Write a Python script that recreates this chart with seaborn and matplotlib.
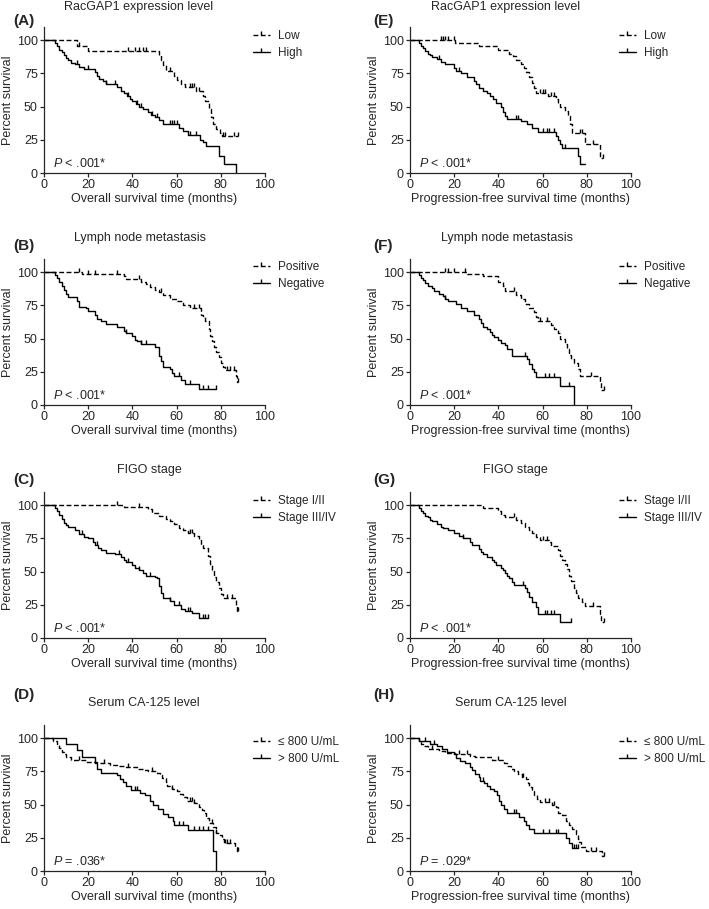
import numpy as np
import matplotlib
matplotlib.use("Agg")
import matplotlib.pyplot as plt
from matplotlib.path import Path
from matplotlib.lines import Line2D
import seaborn as sns

# ---- data (time in months, % survival after each drop) ----
# (A) OS, RacGAP1
a_low_t = [15, 20, 52, 53, 54, 55, 59, 60, 62, 64, 69, 72, 73, 74.5, 75.5, 76.5, 78, 79.5, 80.5]
a_low_s = [96, 92, 89, 85, 81, 77, 73, 70, 67, 65, 62, 58, 54, 48, 42, 37, 33, 30, 28]
a_low_end = 88
a_low_cens = [16, 38, 41, 43, 45, 46, 57, 66, 67, 68, 70, 81, 82, 86, 88]
a_high_t = [5, 6, 7, 8, 9, 10, 11, 12, 14, 16, 18, 23, 24, 25, 26.5, 28, 33, 35, 36, 37.5, 39, 40,
            41.5, 43, 45, 47, 48.5, 50, 52, 54, 61, 63, 65, 70.5, 72, 73.5, 79, 81.5, 87]
a_high_s = [98, 96, 93, 91, 89, 87, 85, 83, 82, 80, 78, 76, 73, 71, 69, 67, 65, 62, 60, 58, 56, 54,
            52, 50, 48, 46, 44, 42, 40, 37, 34, 32, 29, 25, 23, 20, 13, 7, 0]
a_high_end = 87
a_high_cens = [15, 20, 28, 32, 38, 42, 44, 49, 51, 57, 58, 59, 60, 66, 69]

# (E) PFS, RacGAP1
e_low_t = [20.5, 31, 40, 45, 46.5, 48, 50, 51.5, 52.5, 54, 55, 56, 57, 62.5, 66, 67, 68, 70, 71.5,
           72.5, 73.5, 79, 86]
e_low_s = [98, 95.5, 93, 90, 88, 85, 82, 79, 76, 72, 68, 64, 60, 58, 56, 53, 50, 47, 43, 37, 30, 22, 11]
e_low_end = 87.5
e_low_cens = [14, 15, 16, 17, 20, 59, 60, 61, 64, 65, 77, 78, 83, 87.5]
e_high_t = [4, 5, 6, 7, 8, 9, 10, 12, 14, 16, 20, 21, 23, 26, 29, 30, 31, 33, 35, 36, 37.5, 39, 41,
            42, 43, 44, 50, 53, 55, 58, 66, 67, 68, 69, 76, 77]
e_high_s = [98, 96, 94, 92, 90, 89, 87.5, 86, 84, 82, 79, 77, 75, 72, 69, 67, 64, 62, 60, 58, 56, 53,
            50, 46, 43, 41, 39, 37, 34, 31, 28, 25, 22, 19, 13, 6.5]
e_high_end = 79
e_high_cens = [13, 22, 48, 49, 60, 62, 63, 65, 70]

# (B) OS, lymph node metastasis
b_pos_t = [17, 36, 37, 44, 46, 48, 50, 52, 54, 57, 60, 63, 66, 71, 72, 73, 74.5, 75, 76, 77, 78, 79,
           80, 81, 82, 87, 87.5]
b_pos_s = [98.5, 97, 95, 93, 91, 89, 87, 85, 83, 80, 78, 75, 73, 68, 66, 63, 57, 52, 48, 44, 40, 36,
           32, 29, 26, 22, 17]
b_pos_end = 88
b_pos_cens = [16, 20, 23, 33, 43, 53, 68, 70, 83, 84, 86, 88]
b_neg_t = [5, 6, 7, 8, 9, 10, 11, 15, 16, 19, 20, 23, 24, 26, 28, 33, 36, 37, 40, 41, 42, 44, 50, 52,
           53, 54, 57, 58, 59, 62, 64, 70]
b_neg_s = [98, 96, 93, 90, 87, 84, 81, 78, 74, 73, 71, 68, 65, 63, 61, 59, 56, 54, 52, 49, 48, 46, 44,
           37, 33, 29, 27, 24, 22, 19, 16, 12]
b_neg_end = 78
b_neg_cens = [37, 44, 46, 61, 66, 72, 74, 78]

# (F) PFS, lymph node metastasis
f_pos_t = [26, 33, 40, 42, 43, 48, 50, 52, 54, 56, 57, 58, 64, 65, 67, 68, 70, 71, 72, 73, 74, 76, 77,
           86, 86.5]
f_pos_s = [98.5, 97, 93, 90, 86, 83, 80, 76, 73, 70, 66, 63, 60, 57, 54, 50, 46, 42, 38, 35, 32, 27,
           22, 17, 11]
f_pos_end = 88
f_pos_cens = [16, 17, 20, 25, 47, 59, 62, 82, 88]
f_neg_t = [4, 5, 6, 7, 8, 10, 11, 13, 15, 16, 17, 21, 23, 26, 29, 31, 32, 33, 35, 36, 37, 38, 40, 41,
           43, 44, 46, 53, 54, 55, 56, 57, 68, 74]
f_neg_s = [98, 96, 94, 92, 90, 88, 86, 84, 82, 80, 78, 76, 73, 71, 68, 65, 62, 59, 57, 55, 53, 51, 49,
           47, 45, 42, 37, 35, 31, 27, 25, 21, 14, 0]
f_neg_end = 74
f_neg_cens = [16, 52, 61, 63, 65, 72]

# (C) OS, FIGO stage
c_early_t = [36, 47, 49, 52, 55, 57, 59, 61, 63, 65, 68, 70, 71, 72, 74, 75, 76, 77, 78, 79, 80, 81,
             87, 87.5]
c_early_s = [98.5, 97, 94, 92, 90, 88, 86, 83, 81, 79, 77, 74, 71, 68, 62, 56, 51, 46, 42, 38, 33, 30,
             25, 20]
c_early_end = 88
c_early_cens = [33, 43, 66, 67, 83, 85, 88]
c_late_t = [5, 6, 7, 8, 9, 10, 11, 14, 16, 18, 20, 22, 23, 24.5, 26, 28, 32, 35, 36, 37, 40, 41, 43,
            45, 46, 50, 51, 52, 53, 54, 57, 59, 62, 64, 67, 70]
c_late_s = [98, 96, 93, 90, 87, 85, 84, 81, 78, 76, 75, 72, 70, 68, 66, 64, 63, 61, 59, 57, 55, 53, 51,
            49, 47, 46, 45, 39, 34, 30, 28, 25, 22, 20, 19, 15]
c_late_end = 74
c_late_cens = [17, 24, 34, 38, 43, 48, 57, 61, 65, 66, 72, 73, 74]

# (G) PFS, FIGO stage
g_early_t = [33, 40, 41, 43, 48, 50, 52, 54, 55, 57, 59, 63, 64, 67, 68, 69, 70, 71, 72, 73, 74, 75,
             76, 78, 79, 86, 86.5]
g_early_s = [98, 96, 93, 91, 89, 87, 84, 81, 79, 76, 74, 72, 69, 66, 62, 59, 56, 52, 47, 43, 38, 34,
             30, 27, 24, 18, 12]
g_early_end = 88
g_early_cens = [47, 60, 62, 83, 88]
g_late_t = [4, 5, 6, 7, 8, 9, 10, 12, 14, 15, 17, 20, 22, 24, 27, 28, 31, 32, 33, 35, 37, 38, 39, 41,
            42, 43, 44, 45, 46, 47, 52, 53, 54, 55, 57, 58, 68]
g_late_s = [98, 96, 94, 92, 91, 89, 88, 86, 84, 83, 81, 79, 77, 75, 72, 70, 67, 65, 63, 61, 59, 57, 55,
            53, 51, 49, 47, 45, 42, 40, 38, 35, 31, 27, 23, 18, 12]
g_late_end = 73
g_late_cens = [24, 51, 61, 62, 64, 65, 73]

# (D) OS, serum CA-125
d_lo_t = [4, 6, 7, 8, 9, 10, 12, 19, 24, 30, 33, 36, 42, 45, 47, 51, 52.5, 53.5, 55, 55.5, 57.7, 60,
          61.5, 62.7, 64.5, 68, 70, 71.3, 72.4, 73.5, 74.6, 76.6, 78, 79, 80.4, 81.4, 86.4, 87.2]
d_lo_s = [98, 96, 93, 90, 88, 86, 84, 82, 81, 80, 79, 78, 77, 76, 75, 74, 72, 70, 67, 64, 62, 60, 58,
          56, 53, 51, 48, 46, 44, 40, 36, 33, 29, 27, 24, 21, 18, 15]
d_lo_end = 88
d_lo_cens = [16, 27, 38, 49, 58, 66, 67, 68, 76, 78, 82, 83, 84, 88]
d_hi_t = [10, 15, 17, 23, 24, 26, 33, 34.3, 35.8, 37.3, 39.3, 43.4, 45.6, 48, 49.4, 51.7, 54, 56.2,
          58.5, 59, 65.3, 76.6, 77.8]
d_hi_s = [96, 91, 86, 81, 77, 74, 72, 69, 67, 64, 61, 59, 57, 53, 50, 47, 43, 41, 38, 35, 31, 15, 0]
d_hi_end = 77.8
d_hi_cens = [41, 42, 61, 63, 68, 70, 72, 74]

# (H) PFS, serum CA-125
h_lo_t = [4, 5, 6, 8, 13, 16, 20.5, 27, 29.5, 37, 42.4, 44, 45.5, 47, 49, 50.8, 52.3, 53.3, 54, 55.3,
          56, 57.6, 59, 64.4, 66, 67, 69, 70.5, 72, 73.5, 75, 75.8, 76.5, 77.3, 79.5, 87]
h_lo_s = [98, 96, 94, 92, 90.7, 89, 88, 87, 86, 84, 81, 79, 77, 75, 73, 71, 69, 66, 63, 60, 57, 54,
          52, 50, 48, 44, 42, 38, 35, 32, 28, 24, 22, 18, 15, 11]
h_lo_end = 88
h_lo_cens = [10, 22, 26, 40, 51, 61, 63, 65, 82, 84, 88]
h_hi_t = [4, 9, 12, 14.4, 16.7, 19.7, 21, 22.7, 25, 27.3, 28, 29.5, 31, 31.8, 33.3, 34.8, 36.4, 37.9,
          39.4, 40.2, 41.2, 42.4, 43.9, 49.2, 51.5, 52.6, 53.8, 56, 70.5, 72, 73.5]
h_hi_s = [98, 96, 94, 92, 90, 88, 85, 83, 81, 78, 76, 73, 71, 68, 66, 64, 62, 60, 57, 53, 50, 47, 44,
          41, 38, 35, 32, 29, 25, 21, 17]
h_hi_end = 76
h_hi_cens = [7, 11, 33, 47, 48, 60, 63, 66, 67, 74, 75, 76]

titles = ["RacGAP1 expression level", "Lymph node metastasis", "FIGO stage", "Serum CA-125 level"]
legend_labels = [("Low", "High"), ("Positive", "Negative"), ("Stage I/II", "Stage III/IV"),
                 ("\u2264 800 U/mL", "> 800 U/mL")]
os_pvals = ["< .001*", "< .001*", "< .001*", "= .036*"]
pfs_pvals = ["< .001*", "< .001*", "< .001*", "= .029*"]
os_letters = ["(A)", "(B)", "(C)", "(D)"]
pfs_letters = ["(E)", "(F)", "(G)", "(H)"]

os_curves = [
    ((a_low_t, a_low_s, a_low_end, a_low_cens), (a_high_t, a_high_s, a_high_end, a_high_cens)),
    ((b_pos_t, b_pos_s, b_pos_end, b_pos_cens), (b_neg_t, b_neg_s, b_neg_end, b_neg_cens)),
    ((c_early_t, c_early_s, c_early_end, c_early_cens), (c_late_t, c_late_s, c_late_end, c_late_cens)),
    ((d_lo_t, d_lo_s, d_lo_end, d_lo_cens), (d_hi_t, d_hi_s, d_hi_end, d_hi_cens)),
]
pfs_curves = [
    ((e_low_t, e_low_s, e_low_end, e_low_cens), (e_high_t, e_high_s, e_high_end, e_high_cens)),
    ((f_pos_t, f_pos_s, f_pos_end, f_pos_cens), (f_neg_t, f_neg_s, f_neg_end, f_neg_cens)),
    ((g_early_t, g_early_s, g_early_end, g_early_cens), (g_late_t, g_late_s, g_late_end, g_late_cens)),
    ((h_lo_t, h_lo_s, h_lo_end, h_lo_cens), (h_hi_t, h_hi_s, h_hi_end, h_hi_cens)),
]

# ---- styling ----
sns.set_style("ticks")
plt.rcParams["font.family"] = ["Liberation Sans", "DejaVu Sans"]
plt.rcParams["mathtext.fontset"] = "custom"
plt.rcParams["mathtext.rm"] = "Liberation Sans"
plt.rcParams["mathtext.it"] = "Liberation Sans:italic"

FS = 9
LEG_FS = 8.5
DASH = (0, (3.5, 1.8))
tick = Path([(0, 0), (0, 1)], [Path.MOVETO, Path.LINETO])

W, H = 709, 909
fig = plt.figure(figsize=(W / 100, H / 100), dpi=100)

# pixel layout of the grid
col_axes_left = [44, 410]
axes_w = 221
axes_h = 146
row_bottom = [173, 405, 638, 871]
row_title_y = [7, 238, 470, 703]
row_label_y = [21, 246, 480, 695]
row_legend_top = [30, 261, 495, 736]
title_x = [[139, 140, 149, 144], [506, 507, 515, 511]]
label_x = [13, 373]
legend_x = [253, 619]


def km_curve(ax, t, s, end, cens, ls):
    x = [0] + list(t) + [end]
    y = [100] + list(s) + [s[-1]]
    sns.lineplot(x=x, y=y, ax=ax, color="black", linewidth=1.0, linestyle=ls,
                 drawstyle="steps-post", estimator=None, sort=False, legend=False)
    idx = np.searchsorted(np.array(t), np.array(cens), side="right")
    cy = np.array([100] + list(s))[idx]
    sns.scatterplot(x=cens, y=cy, ax=ax, marker=tick, s=28, color="black",
                    edgecolor="black", linewidth=1.0, legend=False, zorder=3)


for col, (curves, letters, pvals, xlabel) in enumerate([
        (os_curves, os_letters, os_pvals, "Overall survival time (months)"),
        (pfs_curves, pfs_letters, pfs_pvals, "Progression-free survival time (months)")]):
    for row in range(4):
        left = col_axes_left[col] / W
        bottom = 1 - row_bottom[row] / H
        ax = fig.add_axes([left, bottom, axes_w / W, axes_h / H])
        g1, g2 = curves[row]
        km_curve(ax, *g1, DASH)
        km_curve(ax, *g2, "-")

        ax.set_xlim(0, 100)
        ax.set_ylim(0, 110)
        ax.set_xticks([0, 20, 40, 60, 80, 100])
        ax.set_yticks([0, 25, 50, 75, 100])
        ax.set_xlabel(xlabel, fontsize=FS, labelpad=1)
        ax.set_ylabel("Percent survival", fontsize=FS, labelpad=2)
        ax.tick_params(direction="out", length=3, width=0.9, labelsize=FS, pad=1.5)
        for sp in ["left", "bottom"]:
            ax.spines[sp].set_linewidth(0.9)
        sns.despine(ax=ax)

        ax.text(4, 7.5, "$P$ " + pvals[row], fontsize=FS, va="center", ha="left")

        fig.text(title_x[col][row] / W, 1 - row_title_y[row] / H, titles[row],
                 ha="center", va="center", fontsize=FS)
        fig.text(label_x[col] / W, 1 - row_label_y[row] / H, letters[row],
                 ha="left", va="center", fontsize=11, fontweight="bold")

        handles = [Line2D([], [], color="black", lw=1.0, linestyle=DASH, marker=tick,
                          markersize=5.3, markeredgewidth=1.0),
                   Line2D([], [], color="black", lw=1.0, linestyle="-", marker=tick,
                          markersize=5.3, markeredgewidth=1.0)]
        fig.legend(handles, legend_labels[row], loc="upper left",
                   bbox_to_anchor=(legend_x[col] / W, 1 - row_legend_top[row] / H),
                   frameon=False, fontsize=LEG_FS, borderpad=0, borderaxespad=0,
                   handlelength=1.4, handletextpad=0.75, labelspacing=0.45, numpoints=1)

fig.savefig("out.png", dpi=100)
